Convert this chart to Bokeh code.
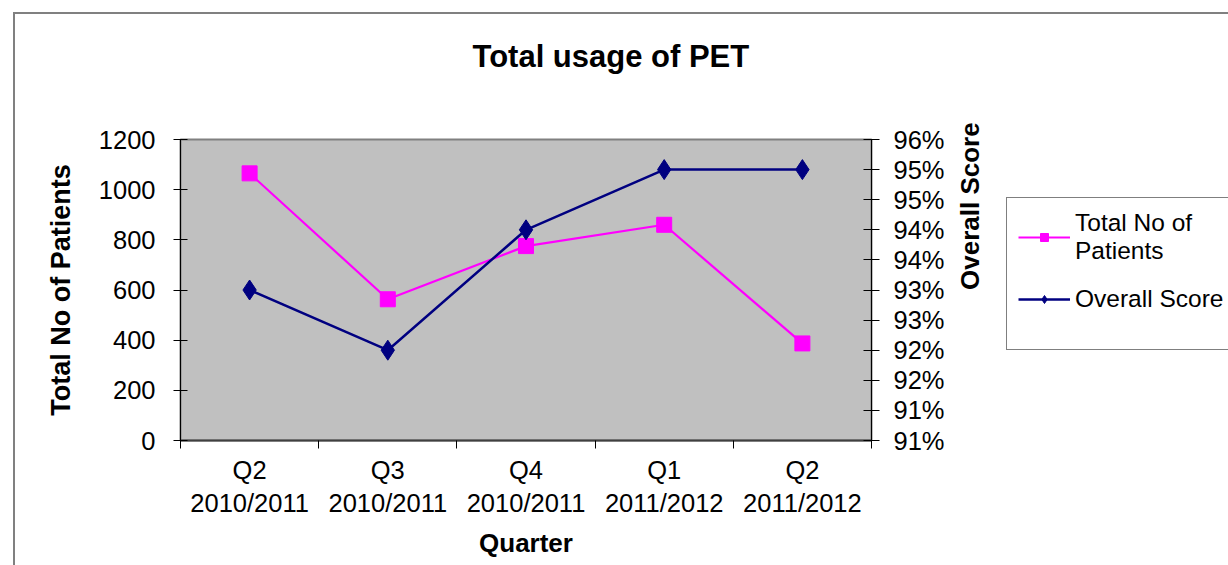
import math
from bokeh.plotting import figure
from bokeh.layouts import row
from bokeh.models import (Range1d, LinearAxis, FixedTicker, Legend, LegendItem, Title)
from bokeh.embed import file_html
from bokeh.resources import INLINE

# ---- data ----
quarters = ["Q2\n2010/2011", "Q3\n2010/2011", "Q4\n2010/2011",
            "Q1\n2011/2012", "Q2\n2011/2012"]
patients = [1065, 563, 775, 860, 387]
overall_score = [93.0, 92.0, 94.0, 95.0, 95.0]
left_ticks = [0, 200, 400, 600, 800, 1000, 1200]
right_ticks = [90.5, 91.0, 91.5, 92.0, 92.5, 93.0, 93.5, 94.0, 94.5, 95.0, 95.5]
right_tick_labels = ["91%", "91%", "92%", "92%", "93%", "93%",
                     "94%", "94%", "95%", "95%", "96%"]
series_names = ["Total No of\nPatients", "Overall Score"]

FONT = "Liberation Sans"
TICK_FS = "25.5px"
LABEL_FS = "26px"
PINK = "#FF00FF"
NAVY = "#000080"
x_pos = [i + 0.5 for i in range(len(quarters))]
boundaries = list(range(len(quarters) + 1))

p = figure(width=990, height=551, output_backend="svg", toolbar_location=None,
           x_range=Range1d(0, len(quarters)), y_range=Range1d(0, 1200),
           min_border_left=165, min_border_right=134,
           min_border_top=125, min_border_bottom=125)
p.xgrid.visible = False
p.ygrid.visible = False
p.background_fill_color = "#C0C0C0"
p.border_fill_color = "white"
p.outline_line_color = "#808080"
p.outline_line_width = 2

# title (with a spacer between it and the plot area)
p.title.text = "Total usage of PET"
p.title.text_font = FONT
p.title.text_font_size = "31px"
p.title.text_font_style = "bold"
p.title.text_color = "black"
p.title.align = "left"
p.title.offset = 292
p.title.standoff = 10
spacer = Title(text=" ", text_font_size="1px", standoff=58)
p.add_layout(spacer, "above")

# bottom axis
xa = p.xaxis[0]
xa.ticker = FixedTicker(ticks=x_pos, minor_ticks=boundaries)
xa.major_label_overrides = dict(zip(x_pos, quarters))
xa.major_tick_in = 0
xa.major_tick_out = 0
xa.minor_tick_in = 0
xa.minor_tick_out = 8
xa.minor_tick_line_color = "black"
xa.axis_line_color = "#404040"
xa.axis_line_width = 2
xa.major_label_text_font = FONT
xa.major_label_text_font_size = TICK_FS
xa.major_label_text_color = "black"
xa.major_label_standoff = 7
xa.axis_label = "Quarter"
xa.axis_label_text_font = FONT
xa.axis_label_text_font_size = LABEL_FS
xa.axis_label_text_font_style = "bold"
xa.axis_label_text_color = "black"
xa.axis_label_standoff = 8

# left axis
ya = p.yaxis[0]
ya.ticker = FixedTicker(ticks=left_ticks)
ya.major_tick_in = 7
ya.major_tick_out = 7
ya.minor_tick_out = 0
ya.minor_tick_in = 0
ya.axis_line_color = "black"
ya.major_label_text_font = FONT
ya.major_label_text_font_size = TICK_FS
ya.major_label_text_color = "black"
ya.major_label_standoff = 18
ya.axis_label = "Total No of Patients"
ya.axis_label_text_font = FONT
ya.axis_label_text_font_size = "27px"
ya.axis_label_text_font_style = "bold"
ya.axis_label_text_color = "black"
ya.axis_label_standoff = 20

# right axis
p.extra_y_ranges = {"score": Range1d(right_ticks[0], right_ticks[-1])}
ra = LinearAxis(y_range_name="score", ticker=FixedTicker(ticks=right_ticks),
                major_label_overrides=dict(zip(right_ticks, right_tick_labels)))
ra.major_tick_in = 8
ra.major_tick_out = 8
ra.minor_tick_out = 0
ra.minor_tick_in = 0
ra.axis_line_color = "black"
ra.major_label_text_font = FONT
ra.major_label_text_font_size = TICK_FS
ra.major_label_text_color = "black"
ra.major_label_standoff = 14
ra.axis_label = "Overall Score"
ra.axis_label_text_font = FONT
ra.axis_label_text_font_size = LABEL_FS
ra.axis_label_text_font_style = "bold"
ra.axis_label_text_color = "black"
ra.axis_label_standoff = 22
try:
    ra.axis_label_orientation = math.pi / 2
except Exception:
    pass
p.add_layout(ra, "right")

# series
p.line(x_pos, patients, line_color=PINK, line_width=2.2)
p.scatter(x_pos, patients, marker="square", size=15, fill_color=PINK, line_color=PINK)
p.line(x_pos, overall_score, y_range_name="score", line_color=NAVY, line_width=2.5)
p.scatter(x_pos, overall_score, y_range_name="score", marker="diamond",
          size=20, fill_color=NAVY, line_color=NAVY)

# legend panel (separate canvas to the right of the chart; its frame is
# aligned with the chart's plot area by the row layout)
lf = figure(width=223, height=551, output_backend="svg", toolbar_location=None,
            x_range=Range1d(0, 1), y_range=Range1d(0, 1),
            x_axis_type=None, y_axis_type=None, min_border=0)
lf.xgrid.visible = False
lf.ygrid.visible = False
lf.outline_line_color = None
lf.background_fill_color = "white"
lf.border_fill_color = "white"
# legend-sample glyphs: placed outside the (0..1) view so only the legend shows them
off = [-5, -4]
l1 = lf.line(off, off, line_color=PINK, line_width=2)
m1 = lf.scatter(off, off, marker="square", size=12, fill_color=PINK, line_color=PINK)
l2 = lf.line(off, off, line_color=NAVY, line_width=2.5)
m2 = lf.scatter(off, off, marker="diamond", size=16, fill_color=NAVY, line_color=NAVY)

legend = Legend(items=[LegendItem(label=series_names[0], renderers=[l1, m1], index=0),
                       LegendItem(label=series_names[1], renderers=[l2, m2], index=0)],
                location=(1, 90))
legend.label_text_font = FONT
legend.label_text_font_size = "24.5px"
legend.label_text_color = "black"
legend.label_text_line_height = 1.22
legend.glyph_width = 52
legend.glyph_height = 20
legend.label_standoff = 5
legend.padding = 11
legend.spacing = 20
legend.margin = 0
legend.border_line_color = "black"
legend.border_line_width = 1
legend.background_fill_color = "white"
legend.background_fill_alpha = 1
try:
    # empty title below the entries gives the box its extra bottom space
    legend.title_location = "below"
    legend.title = " "
    legend.title_text_font_size = "20px"
    legend.title_standoff = 2
except Exception:
    pass
lf.add_layout(legend)

layout = row(p, lf, spacing=0)
layout.styles = {"margin-left": "13px", "margin-top": "12px",
                 "border-left": "2px solid #808080", "border-top": "2px solid #808080"}

open("out.html", "w").write(file_html(layout, INLINE))
